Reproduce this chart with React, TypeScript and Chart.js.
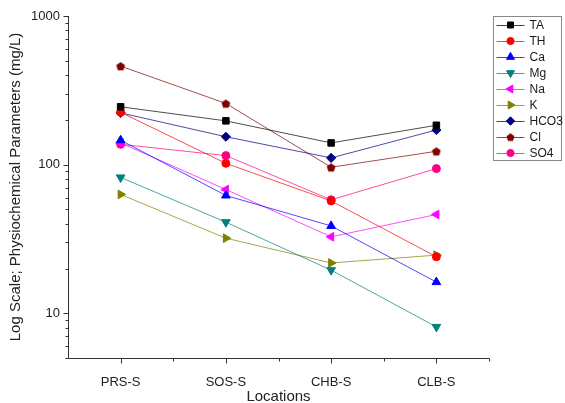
import React, { useEffect, useRef } from 'react';
import { Chart, registerables } from 'chart.js';
import { drawPoint } from 'chart.js/helpers';

Chart.register(...registerables);

const locations = ['PRS-S', 'SOS-S', 'CHB-S', 'CLB-S'];
const TA = [245, 197, 140, 184];
const TH = [225, 102, 57, 24];
const Ca = [146, 62, 38.7, 16.2];
const Mg = [82, 41, 19.5, 8.1];
const Na = [140, 68, 32.7, 46.2];
const K = [63, 32, 21.8, 24.6];
const HCO3 = [223, 154, 111, 171];
const Cl = [460, 258, 96, 123];
const SO4 = [137, 115, 58, 94];
const yMajorTicks = [10, 100, 1000];
const yMin = 5;
const yMax = 1000;

const FONT = "'Liberation Sans', Arial, sans-serif";

function makePentagon(color: string, r: number): HTMLCanvasElement {
  const c = document.createElement('canvas');
  const s = Math.ceil(r * 2) + 2;
  c.width = s;
  c.height = s;
  const ctx = c.getContext('2d')!;
  ctx.fillStyle = color;
  ctx.beginPath();
  for (let i = 0; i < 5; i++) {
    const a = -Math.PI / 2 + (i * 2 * Math.PI) / 5;
    ctx.lineTo(s / 2 + r * Math.cos(a), s / 2 + r * Math.sin(a) + 0.5);
  }
  ctx.closePath();
  ctx.fill();
  return c;
}

function withAlpha(hex: string, a: number): string {
  const n = parseInt(hex.slice(1), 16);
  return `rgba(${(n >> 16) & 255},${(n >> 8) & 255},${n & 255},${a})`;
}

export default function App() {
  const ref = useRef<HTMLCanvasElement>(null);

  useEffect(() => {
    document.body.style.margin = '0';
    const pent = makePentagon('#800000', 4.6);
    const pentSmall = makePentagon('#800000', 4.2);

    const series = [
      { label: 'TA', data: TA, color: '#000000', style: 'rect', rot: 0, r: 4.6 },
      { label: 'TH', data: TH, color: '#FF0000', style: 'circle', rot: 0, r: 4 },
      { label: 'Ca', data: Ca, color: '#0000FF', style: 'triangle', rot: 0, r: 5 },
      { label: 'Mg', data: Mg, color: '#008080', style: 'triangle', rot: 180, r: 5 },
      { label: 'Na', data: Na, color: '#FF00FF', style: 'triangle', rot: -90, r: 5 },
      { label: 'K', data: K, color: '#808000', style: 'triangle', rot: 90, r: 5 },
      { label: 'HCO3', data: HCO3, color: '#000080', style: 'rectRot', rot: 0, r: 4.6 },
      { label: 'Cl', data: Cl, color: '#800000', style: pent as any, rot: 0, r: 4.6 },
      { label: 'SO4', data: SO4, color: '#FF0080', style: 'circle', rot: 0, r: 4 },
    ];

    const axesPlugin = {
      id: 'originAxes',
      afterDraw(chart: any) {
        const { ctx, chartArea } = chart;
        const { left, right, top, bottom } = chartArea;
        const ys = chart.scales.y;
        const xs = chart.scales.x;
        ctx.save();
        ctx.strokeStyle = '#333333';
        ctx.lineWidth = 1;
        ctx.beginPath();
        const L = Math.round(left) + 0.5;
        const B = Math.round(bottom) + 0.5;
        ctx.moveTo(L, Math.round(top));
        ctx.lineTo(L, B);
        ctx.lineTo(Math.round(right) + 0.5, B);
        for (let d = 1; d <= yMax; d *= 10) {
          for (let m = 1; m <= 9; m++) {
            const v = d * m;
            if (v < yMin || v > yMax) continue;
            const py = Math.round(ys.getPixelForValue(v)) + 0.5;
            const len = yMajorTicks.includes(v) ? 5 : 3;
            ctx.moveTo(L - len, py);
            ctx.lineTo(L, py);
          }
        }
        for (let i = 0; i < locations.length; i++) {
          const px = Math.round(xs.getPixelForValue(i)) + 0.5;
          ctx.moveTo(px, B);
          ctx.lineTo(px, B + 5);
          const pm = Math.round(xs.getPixelForValue(i + 0.5)) + 0.5;
          ctx.moveTo(pm, B);
          ctx.lineTo(pm, B + 3);
        }
        ctx.stroke();

        const bx = Math.round(right) + 4.5;
        const by = Math.round(top) + 0.5;
        const bw = 68;
        const rowH = 16;
        const bh = rowH * series.length;
        ctx.strokeStyle = '#8a8a8a';
        ctx.strokeRect(bx, by, bw, bh);
        ctx.font = `12px ${FONT}`;
        ctx.textBaseline = 'middle';
        ctx.textAlign = 'left';
        series.forEach((s, i) => {
          const y = by + 8.5 + i * rowH;
          ctx.strokeStyle = withAlpha(s.color, 0.75);
          ctx.lineWidth = 1;
          ctx.beginPath();
          ctx.moveTo(bx + 3, Math.round(y) + 0.5);
          ctx.lineTo(bx + 31, Math.round(y) + 0.5);
          ctx.stroke();
          ctx.fillStyle = s.color;
          ctx.strokeStyle = s.color;
          drawPoint(ctx, {
            pointStyle: s.label === 'Cl' ? pentSmall : s.style,
            rotation: s.rot,
            radius: s.r - 0.4,
            borderWidth: 1,
          } as any, bx + 17, y);
          ctx.fillStyle = '#1a1a1a';
          ctx.fillText(s.label, bx + 36, y + 0.5);
        });
        ctx.restore();
      },
    };

    const chart = new Chart(ref.current!, {
      type: 'line',
      data: {
        labels: locations,
        datasets: series.map((s) => ({
          label: s.label,
          data: s.data,
          borderColor: withAlpha(s.color, 0.7),
          backgroundColor: s.color,
          borderWidth: 1,
          pointStyle: s.style,
          pointRotation: s.rot,
          pointRadius: s.r,
          pointBorderWidth: 1,
          pointBorderColor: s.color,
          pointBackgroundColor: s.color,
          tension: 0,
        })),
      },
      options: {
        responsive: false,
        animation: false,
        devicePixelRatio: 1,
        layout: { padding: { top: 16, right: 76, bottom: 0, left: 0 } },
        plugins: {
          legend: { display: false },
          tooltip: { enabled: false },
        },
        scales: {
          x: {
            type: 'category',
            offset: true,
            grid: { display: false, drawTicks: false },
            border: { display: false },
            ticks: { color: '#222', font: { family: FONT, size: 13 }, padding: 17, maxRotation: 0 },
            title: {
              display: true,
              text: 'Locations',
              color: '#222',
              font: { family: FONT, size: 15 },
              padding: { top: 0, bottom: -3 },
            },
            afterFit: (s: any) => {
              s.height = 45;
            },
          },
          y: {
            type: 'logarithmic',
            min: yMin,
            max: yMax,
            grid: { display: false, drawTicks: false },
            border: { display: false },
            ticks: {
              autoSkip: false,
              color: '#222',
              font: { family: FONT, size: 13 },
              padding: 8,
              callback: (v: any) => (yMajorTicks.includes(Number(v)) ? String(v) : ''),
            },
            title: {
              display: true,
              text: 'Log Scale; Physiochemical Parameters (mg/L)',
              color: '#222',
              font: { family: FONT, size: 15 },
              padding: { top: 7, bottom: 0 },
            },
            afterFit: (s: any) => {
              s.width = 68;
            },
          },
        },
      },
      plugins: [axesPlugin],
    });
    return () => chart.destroy();
  }, []);

  return (
    <div style={{ width: 565, height: 403, background: '#fff' }}>
      <canvas ref={ref} width={565} height={403} />
    </div>
  );
}
